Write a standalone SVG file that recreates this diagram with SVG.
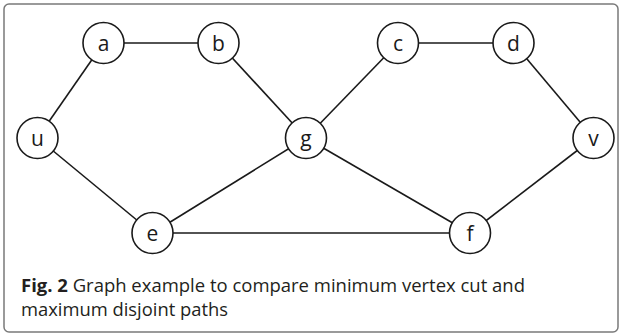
<svg xmlns="http://www.w3.org/2000/svg" width="621" height="336" viewBox="0 0 621 336">
<style>
.frame{fill:#fff;stroke:#7a7a7a;stroke-width:1.5}
.edge{stroke:#1a1a1a;stroke-width:1.6;fill:none}
.node circle{fill:#fff;stroke:#1a1a1a;stroke-width:1.6}
.node text{font-family:"Open Sans","Noto Sans",sans-serif;font-size:21px;fill:#1a1a1a;text-anchor:middle}
.cap{font-family:"Open Sans","Noto Sans",sans-serif;font-size:18px;fill:#231f20}
</style>
<rect class="frame" x="4" y="4" width="614" height="328" rx="5"/>
<g id="connectors">
<line class="edge" x1="103.5" y1="43" x2="218.5" y2="43"/>
<line class="edge" x1="103.5" y1="43" x2="37.5" y2="138"/>
<line class="edge" x1="218.5" y1="43" x2="306" y2="138"/>
<line class="edge" x1="398" y1="43" x2="513.5" y2="43"/>
<line class="edge" x1="398" y1="43" x2="306" y2="138"/>
<line class="edge" x1="513.5" y1="43" x2="593.5" y2="138"/>
<line class="edge" x1="37.5" y1="138" x2="152.5" y2="233"/>
<line class="edge" x1="306" y1="138" x2="152.5" y2="233"/>
<line class="edge" x1="306" y1="138" x2="470" y2="233"/>
<line class="edge" x1="593.5" y1="138" x2="470" y2="233"/>
<line class="edge" x1="152.5" y1="233" x2="470" y2="233"/>
</g>
<g id="node-a" class="node"><circle cx="103.5" cy="43" r="20.5"/><text x="103.5" y="50.5">a</text></g>
<g id="node-b" class="node"><circle cx="218.5" cy="43" r="20.5"/><text x="218.5" y="50.5">b</text></g>
<g id="node-c" class="node"><circle cx="398" cy="43" r="20.5"/><text x="398" y="50.5">c</text></g>
<g id="node-d" class="node"><circle cx="513.5" cy="43" r="20.5"/><text x="513.5" y="50.5">d</text></g>
<g id="node-u" class="node"><circle cx="37.5" cy="138" r="20.5"/><text x="37.5" y="145.5">u</text></g>
<g id="node-g" class="node"><circle cx="306" cy="138" r="20.5"/><text x="306" y="145.5">g</text></g>
<g id="node-v" class="node"><circle cx="593.5" cy="138" r="20.5"/><text x="593.5" y="145.5">v</text></g>
<g id="node-e" class="node"><circle cx="152.5" cy="233" r="20.5"/><text x="152.5" y="240.5">e</text></g>
<g id="node-f" class="node"><circle cx="470" cy="233" r="20.5"/><text x="470" y="240.5">f</text></g>
<text class="cap" x="21" y="292" textLength="504" lengthAdjust="spacingAndGlyphs"><tspan font-weight="bold">Fig. 2</tspan> Graph example to compare minimum vertex cut and</text>
<text class="cap" x="21" y="316" textLength="207" lengthAdjust="spacingAndGlyphs">maximum disjoint paths</text>
</svg>
